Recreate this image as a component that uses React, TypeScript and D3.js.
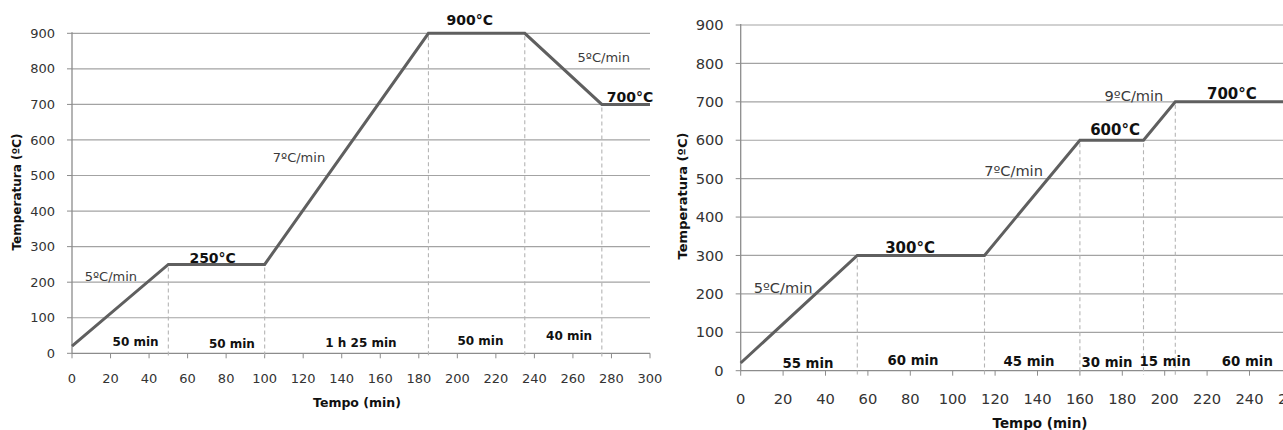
import React from "react";
import * as d3 from "d3";

// ---- Left programme: 20 °C -> 250 °C -> 900 °C -> 700 °C ----
const leftTimes = [0, 50, 100, 185, 235, 275, 300];
const leftTemps = [20, 250, 250, 900, 900, 700, 700];
const leftStageTimes = [50, 100, 185, 235, 275];
const leftStageTemps = [250, 250, 900, 900, 700];
const leftDurationTexts = ["50 min", "50 min", "1 h 25 min", "50 min", "40 min"];
const leftDurationAt = [[33, 33], [83, 28], [150, 29], [212, 35], [258, 50]];
const leftHoldTexts = ["250°C", "900°C", "700°C"];
const leftHoldAt = [[73, 269], [206.5, 937], [289.6, 721]];
const leftRateTexts = ["5ºC/min", "7ºC/min", "5ºC/min"];
const leftRateAt = [[20.2, 215], [117.8, 552], [276, 833]];

// ---- Right programme: 20 °C -> 300 °C -> 600 °C -> 700 °C ----
const rightTimes = [0, 55, 115, 160, 190, 205, 300];
const rightTemps = [20, 300, 300, 600, 600, 700, 700];
const rightStageTimes = [55, 115, 160, 190, 205];
const rightStageTemps = [300, 300, 600, 600, 700];
const rightDurationTexts = ["55 min", "60 min", "45 min", "30 min", "15 min", "60 min"];
const rightDurationAt = [[31.7, 19], [81.3, 26], [136, 23.4], [172.8, 21], [200.2, 23.4], [239, 25]];
const rightHoldTexts = ["300°C", "600°C", "700°C"];
const rightHoldAt = [[79.9, 320], [176.6, 627], [231.7, 722]];
const rightRateTexts = ["5ºC/min", "7ºC/min", "9ºC/min"];
const rightRateAt = [[20, 214.5], [128.7, 520], [185.5, 716]];

// Shared axis ticks
const timeTicks = d3.range(0, 301, 20);
const tempTicks = d3.range(0, 901, 100);

const xTitle = "Tempo (min)";
const yTitle = "Temperatura (ºC)";

const FONT = "'DejaVu Sans', Verdana, sans-serif";

type Pt = number[];

interface ChartProps {
  times: number[];
  temps: number[];
  stageTimes: number[];
  stageTemps: number[];
  durationTexts: string[];
  durationAt: Pt[];
  holdTexts: string[];
  holdAt: Pt[];
  rateTexts: string[];
  rateAt: Pt[];
  xRange: [number, number];
  yRange: [number, number];
  tickFont: number;
  holdFont: number;
  durFont: number;
  rateFont: number;
  titleFont: number;
  xTitlePos: [number, number];
  yTitlePos: [number, number];
}

function ProfileChart(p: ChartProps) {
  const x = d3.scaleLinear().domain([0, 300]).range(p.xRange);
  const y = d3.scaleLinear().domain([0, 900]).range(p.yRange);
  const x0 = p.xRange[0];
  const x1 = p.xRange[1];
  const yb = y(0);

  const line = d3
    .line<number>()
    .x((_, i) => x(p.times[i]))
    .y((d) => y(d));

  const tickGap = p.tickFont * 1.9;

  return (
    <g>
      {/* horizontal gridlines */}
      {tempTicks.slice(1).map((t) => (
        <line key={"g" + t} x1={x0} x2={x1} y1={y(t)} y2={y(t)} stroke="#a3a3a3" strokeWidth={1.2} />
      ))}
      {/* axes */}
      <line x1={x0} x2={x0} y1={y(900) - 1} y2={yb} stroke="#8c8c8c" strokeWidth={1.3} />
      <line x1={x0} x2={x1} y1={yb} y2={yb} stroke="#8c8c8c" strokeWidth={1.3} />
      {tempTicks.map((t) => (
        <g key={"yt" + t}>
          <line x1={x0 - 5} x2={x0} y1={y(t)} y2={y(t)} stroke="#8c8c8c" />
          <text
            x={x0 - 17}
            y={y(t)}
            dy="0.35em"
            textAnchor="end"
            fontSize={p.tickFont}
            fill="#333"
            fontFamily={FONT}
          >
            {t}
          </text>
        </g>
      ))}
      {timeTicks.map((t) => (
        <g key={"xt" + t}>
          <line x1={x(t)} x2={x(t)} y1={yb} y2={yb + 5} stroke="#8c8c8c" />
          <text
            x={x(t)}
            y={yb + tickGap}
            dy="0.35em"
            textAnchor="middle"
            fontSize={p.tickFont}
            fill="#333"
            fontFamily={FONT}
          >
            {t}
          </text>
        </g>
      ))}
      {/* stage boundaries */}
      {p.stageTimes.map((t, i) => (
        <line
          key={"d" + t}
          x1={x(t)}
          x2={x(t)}
          y1={y(p.stageTemps[i]) + 3}
          y2={yb + 4}
          stroke="#b5b5b5"
          strokeWidth={1.1}
          strokeDasharray="4 3"
        />
      ))}
      {/* temperature profile */}
      <path d={line(p.temps) || ""} fill="none" stroke="#5f5f5f" strokeWidth={3} strokeLinejoin="miter" />
      {/* annotations */}
      {p.durationTexts.map((s, i) => (
        <text
          key={"dur" + i}
          x={x(p.durationAt[i][0])}
          y={y(p.durationAt[i][1])}
          dy="0.35em"
          textAnchor="middle"
          fontSize={p.durFont}
          fontWeight="bold"
          fill="#111"
          fontFamily={FONT}
        >
          {s}
        </text>
      ))}
      {p.holdTexts.map((s, i) => (
        <text
          key={"hold" + i}
          x={x(p.holdAt[i][0])}
          y={y(p.holdAt[i][1])}
          dy="0.35em"
          textAnchor="middle"
          fontSize={p.holdFont}
          fontWeight="bold"
          fill="#111"
          fontFamily={FONT}
        >
          {s}
        </text>
      ))}
      {p.rateTexts.map((s, i) => (
        <text
          key={"rate" + i}
          x={x(p.rateAt[i][0])}
          y={y(p.rateAt[i][1])}
          dy="0.35em"
          textAnchor="middle"
          fontSize={p.rateFont}
          fill="#3a3a3a"
          fontFamily={FONT}
        >
          {s}
        </text>
      ))}
      {/* axis titles */}
      <text
        x={p.xTitlePos[0]}
        y={p.xTitlePos[1]}
        dy="0.35em"
        textAnchor="middle"
        fontSize={p.titleFont}
        fontWeight="bold"
        fill="#111"
        fontFamily={FONT}
      >
        {xTitle}
      </text>
      <text
        transform={`translate(${p.yTitlePos[0]},${p.yTitlePos[1]}) rotate(-90)`}
        dy="0.35em"
        textAnchor="middle"
        fontSize={p.titleFont - 0.5}
        fontWeight="bold"
        fill="#111"
        fontFamily={FONT}
      >
        {yTitle}
      </text>
    </g>
  );
}

export default function App() {
  return (
    <svg
      width={1283}
      height={430}
      style={{ position: "absolute", left: 0, top: 0, display: "block", background: "#fff" }}
    >
      <rect width={1283} height={430} fill="#fff" />
      <ProfileChart
        times={leftTimes}
        temps={leftTemps}
        stageTimes={leftStageTimes}
        stageTemps={leftStageTemps}
        durationTexts={leftDurationTexts}
        durationAt={leftDurationAt}
        holdTexts={leftHoldTexts}
        holdAt={leftHoldAt}
        rateTexts={leftRateTexts}
        rateAt={leftRateAt}
        xRange={[72, 650]}
        yRange={[353.3, 33.3]}
        tickFont={13}
        holdFont={14}
        durFont={12}
        rateFont={13}
        titleFont={12.5}
        xTitlePos={[357, 402.7]}
        yTitlePos={[17, 192]}
      />
      <ProfileChart
        times={rightTimes}
        temps={rightTemps}
        stageTimes={rightStageTimes}
        stageTemps={rightStageTemps}
        durationTexts={rightDurationTexts}
        durationAt={rightDurationAt}
        holdTexts={rightHoldTexts}
        holdAt={rightHoldAt}
        rateTexts={rightRateTexts}
        rateAt={rightRateAt}
        xRange={[740.7, 1376.7]}
        yRange={[370.7, 25]}
        tickFont={14.7}
        holdFont={15}
        durFont={13.3}
        rateFont={14.6}
        titleFont={13.5}
        xTitlePos={[1040, 423]}
        yTitlePos={[682, 196]}
      />
    </svg>
  );
}
